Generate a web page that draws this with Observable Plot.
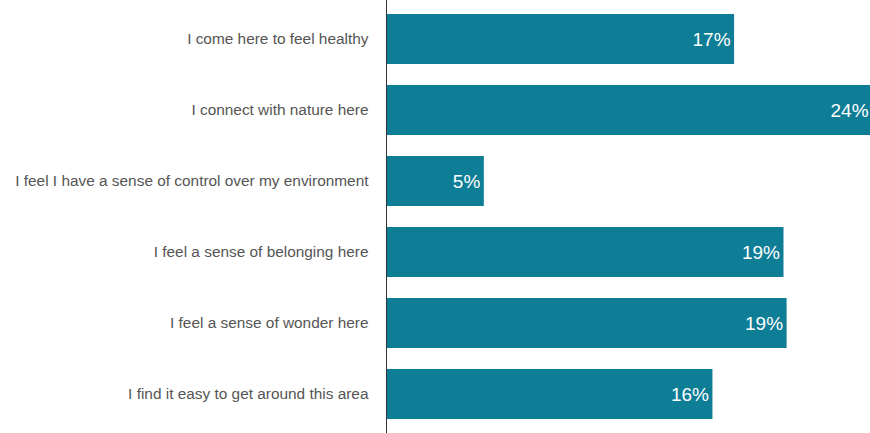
<!DOCTYPE html>
<html>
<head>
<meta charset="utf-8">
<script src="https://cdn.jsdelivr.net/npm/d3@7"></script>
<script src="https://cdn.jsdelivr.net/npm/@observablehq/plot@0.6"></script>
<style>
  html, body { margin: 0; padding: 0; background: #fff; }
  #chart svg { display: block; }
</style>
</head>
<body>
<div id="chart"></div>
<script>
const categories = [
  "I come here to feel healthy",
  "I connect with nature here",
  "I feel I have a sense of control over my environment",
  "I feel a sense of belonging here",
  "I feel a sense of wonder here",
  "I find it easy to get around this area"
];
const values = [16.9, 23.6, 4.75, 19.3, 19.45, 15.85];
const valueLabels = ["17%", "24%", "5%", "19%", "19%", "16%"];

const data = categories.map((c, i) => ({ category: c, value: values[i], label: valueLabels[i] }));

const chart = Plot.plot({
  width: 870,
  height: 433,
  marginLeft: 386,
  marginRight: 0,
  marginTop: 0,
  marginBottom: 0,
  style: { fontFamily: "'Liberation Sans', Arial, sans-serif", background: "#fff" },
  x: { domain: [0, 23.5], axis: null },
  y: { domain: categories, paddingInner: 0.3, paddingOuter: 0.19, label: null },
  marks: [
    Plot.barX(data, { y: "category", x: "value", fill: "#0e7d96", clip: true }),
    Plot.text(data, {
      y: "category", x: "value", text: "label",
      textAnchor: "end", dx: -4, fill: "#fff", fontSize: 19, clip: false
    }),
    Plot.axisY({ tickSize: 0, tickPadding: 18, fontSize: 15.4, color: "#555", label: null }),
    Plot.ruleX([0], { stroke: "#333", strokeWidth: 1 })
  ]
});
document.getElementById("chart").appendChild(chart);
</script>
</body>
</html>
